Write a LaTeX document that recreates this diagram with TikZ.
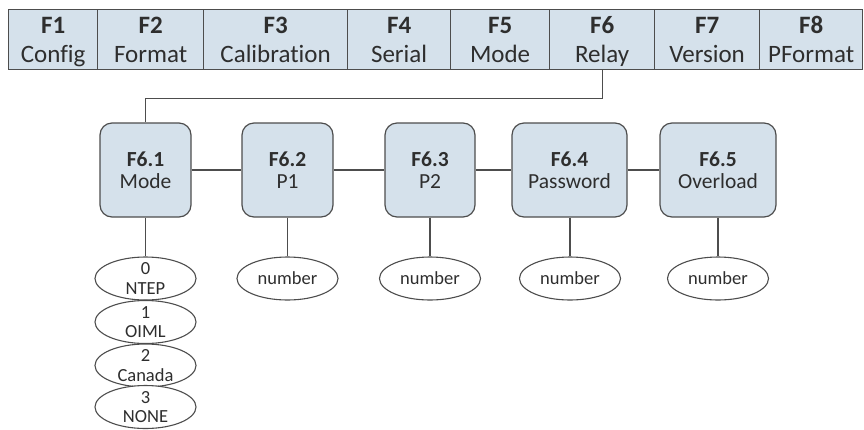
\documentclass[tikz,border=0pt]{standalone}
\usepackage{fontspec}
\setmainfont{Carlito}[Ligatures=NoCommon]
\usetikzlibrary{shapes.geometric,calc}
\definecolor{boxfill}{HTML}{D5E1EB}
\definecolor{edge}{HTML}{4D4D4D}
\definecolor{ink}{HTML}{2E2E2E}
\tikzset{
  cell/.style={draw=edge, fill=boxfill, line width=1.2pt, minimum height=60pt, inner sep=0pt, anchor=north west},
  celltop/.style={anchor=base, text=ink, inner sep=0pt, font=\fontsize{25}{29}\selectfont\bfseries},
  cellbot/.style={anchor=base, text=ink, inner sep=0pt, font=\fontsize{25}{29}\selectfont},
  fbox/.style={draw=edge, fill=boxfill, line width=1.2pt, rounded corners=12pt, minimum height=94pt, inner sep=0pt, align=center, text=ink, font=\fontsize{21.5}{22}\selectfont},
  oval/.style={ellipse, draw=edge, line width=1.1pt, fill=white, minimum width=101pt, minimum height=43pt, inner xsep=0pt, inner ysep=-5pt, align=center, text=ink, font=\fontsize{18.5}{19.5}\selectfont},
  link/.style={draw=edge, line width=1.2pt}
}
\begin{document}
\begin{tikzpicture}[x=1pt,y=-1pt]
\useasboundingbox (0,0) rectangle (864,429);
% top menu bar
\node[cell, minimum width=89pt] (f1) at (8,9) {};
\node[cell, minimum width=106pt] (f2) at (97,9) {};
\node[cell, minimum width=144pt] (f3) at (203,9) {};
\node[cell, minimum width=103pt] (f4) at (347,9) {};
\node[cell, minimum width=99pt] (f5) at (450,9) {};
\node[cell, minimum width=105pt] (f6) at (549,9) {};
\node[cell, minimum width=105pt] (f7) at (654,9) {};
\node[cell, minimum width=103pt] (f8) at (759,9) {};
\foreach \c/\a/\b in {f1/F1/Config, f2/F2/Format, f3/F3/Calibration, f4/F4/Serial, f5/F5/Mode, f6/F6/Relay, f7/F7/Version, f8/F8/PFormat}{
  \node[celltop] (\c t) at ($(\c.north)+(0,24)$) {\a};
  \node[cellbot] (\c b) at ($(\c.north)+(0,53)$) {\b};
}
% F6 sub-menu boxes
\node[fbox, minimum width=91pt] (b1) at (145.5,170) {\textbf{F6.1}\\Mode};
\node[fbox, minimum width=91pt] (b2) at (287.5,170) {\textbf{F6.2}\\P1};
\node[fbox, minimum width=90pt] (b3) at (430,170) {\textbf{F6.3}\\P2};
\node[fbox, minimum width=115pt] (b4) at (569.5,170) {\textbf{F6.4}\\Password};
\node[fbox, minimum width=116pt] (b5) at (718,170) {\textbf{F6.5}\\Overload};
% value ovals
\node[oval] (e1) at (145.5,278.5) {0\\NTEP};
\node[oval] (e2) at (145.5,322) {1\\OIML};
\node[oval] (e3) at (145.5,365.5) {2\\Canada};
\node[oval] (e4) at (145.5,407) {3\\NONE};
\node[oval] (n2) at (287.5,278.5) {number};
\node[oval] (n3) at (430,278.5) {number};
\node[oval] (n4) at (570,278.5) {number};
\node[oval] (n5) at (718,278.5) {number};
% connectors
\draw[link] (f6.south) -- ++(0,28) coordinate (k) -| (b1.north);
\draw[link] (b1.east) -- (b2.west);
\draw[link] (b2.east) -- (b3.west);
\draw[link] (b3.east) -- (b4.west);
\draw[link] (b4.east) -- (b5.west);
\draw[link] (b1.south) -- (e1.north);
\draw[link] (b2.south) -- (n2.north);
\draw[link] (b3.south) -- (n3.north);
\draw[link] (b4.south -| n4.north) -- (n4.north);
\draw[link] (b5.south) -- (n5.north);
\end{tikzpicture}
\end{document}
